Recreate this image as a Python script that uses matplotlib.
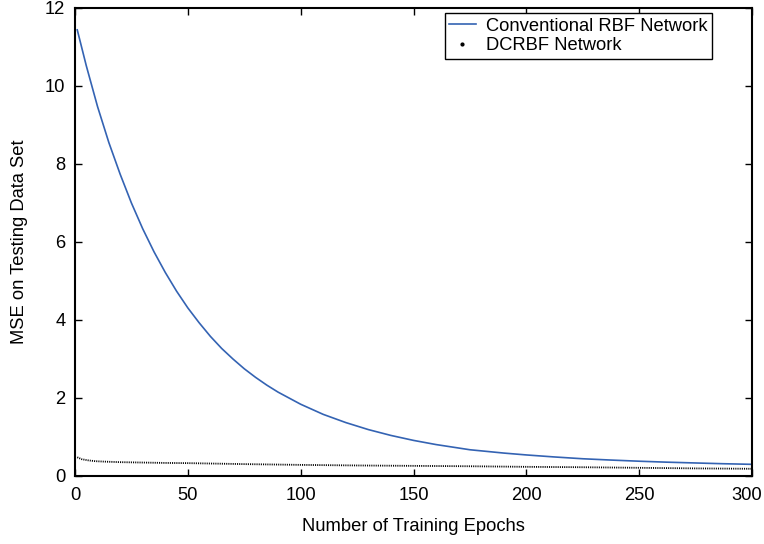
import matplotlib
matplotlib.use("Agg")
import matplotlib.pyplot as plt
import matplotlib.transforms as mtransforms
from matplotlib.lines import Line2D

plt.rcParams["font.family"] = ["Liberation Sans", "DejaVu Sans"]
plt.rcParams["font.size"] = 13.2

# values
rbf_epochs = [1, 5, 10, 15, 20, 25, 30, 35, 40, 45, 50, 55, 60, 65, 70, 75, 80, 85, 90,
              100, 110, 120, 130, 140, 150, 160, 175, 190, 200, 212, 225, 237, 250,
              262, 275, 287, 300]
rbf_mse = [11.44, 10.52, 9.47, 8.55, 7.74, 7.00, 6.34, 5.75, 5.22, 4.74, 4.31, 3.93,
           3.58, 3.27, 3.00, 2.75, 2.53, 2.33, 2.15, 1.84, 1.58, 1.37, 1.19, 1.04,
           0.913, 0.806, 0.673, 0.588, 0.54, 0.49, 0.442, 0.41, 0.379, 0.355, 0.334,
           0.315, 0.299]

dc_epochs = [1, 3, 6, 9, 12.5, 20, 30, 40, 50, 75, 100, 125, 150, 175, 200, 225, 250, 275, 300]
dc_mse = [0.48, 0.43, 0.40, 0.38, 0.37, 0.355, 0.345, 0.335, 0.33, 0.305, 0.285, 0.27,
          0.26, 0.25, 0.235, 0.225, 0.21, 0.195, 0.185]

x_ticks = [0, 50, 100, 150, 200, 250, 300]
y_ticks = [0, 2, 4, 6, 8, 10, 12]

fig = plt.figure(figsize=(7.64, 5.44), dpi=100)
ax = fig.add_axes([75 / 764, 68 / 544, 677 / 764, 468 / 544])

ax.plot(rbf_epochs, rbf_mse, color="#3463b3", lw=1.2)
ax.plot(dc_epochs, dc_mse, color="black", ls=(0, (0.6, 0.6)), lw=1.3)

ax.set_xlim(0, 300)
ax.set_ylim(0, 12)
ax.set_xticks(x_ticks)
ax.set_yticks(y_ticks)
ax.tick_params(direction="in", top=True, right=True, length=5, width=1)
ax.tick_params(axis="x", pad=8)
ax.tick_params(axis="y", pad=7)
for s in ax.spines.values():
    s.set_linewidth(1.5)

# last x label sits at the figure edge, nudge it left so it stays inside
last = ax.get_xticklabels()[-1]
last.set_transform(last.get_transform() + mtransforms.ScaledTranslation(-5 / 100, 0, fig.dpi_scale_trans))

ax.set_xlabel("Number of Training Epochs", labelpad=10)
ax.set_ylabel("MSE on Testing Data Set", labelpad=12)

handles = [Line2D([], [], color="#3463b3", lw=1.2),
           Line2D([], [], color="black", ls="none", marker=".", markersize=4)]
leg = ax.legend(handles, ["Conventional RBF Network", "DCRBF Network"],
                loc="upper right", bbox_to_anchor=(0.941, 0.989), fancybox=False,
                edgecolor="black", framealpha=1, handlelength=1.45, handletextpad=0.55,
                borderpad=0.25, labelspacing=0.15, borderaxespad=0)
leg.get_frame().set_linewidth(1.0)

fig.savefig("out.png", dpi=100)
